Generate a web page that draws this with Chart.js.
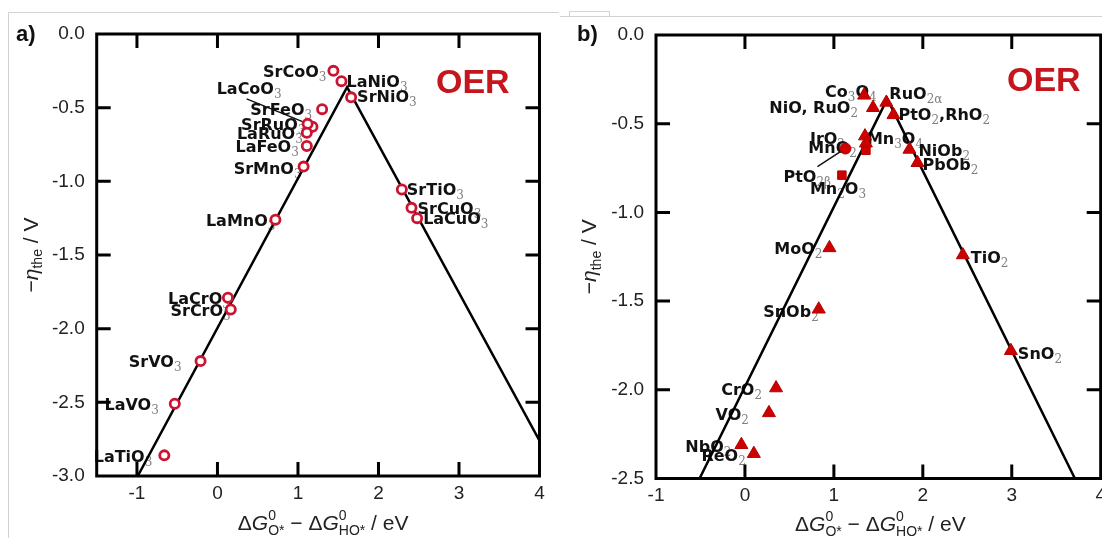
<!DOCTYPE html>
<html><head><meta charset="utf-8">
<script src="https://cdn.jsdelivr.net/npm/chart.js@4.4.0/dist/chart.umd.min.js"></script>
<style>
html,body{margin:0;padding:0;background:#fff;overflow:hidden;width:1102px;height:538px;}
#wrap{position:relative;width:1102px;height:538px;overflow:hidden;}
canvas{position:absolute;top:0;}
.fr{position:absolute;background:#d2d2d2;}
</style></head><body>
<div id="wrap">
<div class="fr" style="left:8px;top:12px;width:551px;height:1px"></div>
<div class="fr" style="left:8px;top:12px;width:1px;height:526px"></div>
<div class="fr" style="left:569px;top:11px;width:40px;height:1px"></div>
<div class="fr" style="left:569px;top:11px;width:1px;height:5px"></div>
<div class="fr" style="left:609px;top:11px;width:1px;height:5px"></div>
<div class="fr" style="left:560px;top:16px;width:542px;height:1px"></div>
<canvas id="ca" width="560" height="538" style="left:0"></canvas>
<canvas id="cb" width="560" height="538" style="left:560px"></canvas>
</div>
<script>
// ---------------- Panel a data (perovskites) ----------------
const aNames = ['SrCoO_3','LaNiO_3','SrNiO_3','SrFeO_3','SrRuO_3','LaCoO_3','LaRuO_3','LaFeO_3','SrMnO_3','LaMnO_3','SrTiO_3','SrCuO_3','LaCuO_3','LaCrO_3','SrCrO_3','SrVO_3','LaVO_3','LaTiO_3'];
const aX = [1.44, 1.54, 1.66, 1.30, 1.18, 1.12, 1.11, 1.11, 1.07, 0.72, 2.29, 2.41, 2.48, 0.13, 0.165, -0.21, -0.53, -0.66];
const aY = [-0.25, -0.32, -0.43, -0.51, -0.63, -0.61, -0.67, -0.76, -0.90, -1.26, -1.055, -1.18, -1.25, -1.79, -1.87, -2.22, -2.51, -2.86];
const aLineX = [-0.99, 1.61, 4.0];
const aLineY = [-3.0, -0.36, -2.76];
const aXTicks = [-1, 0, 1, 2, 3, 4];
const aYTicks = [0, -0.5, -1.0, -1.5, -2.0, -2.5, -3.0];

// ---------------- Panel b data (rutile/oxides) ----------------
const bTriNames = ['Co_3O_4','NiO, RuO_2','RuO_{2α}','PtO_2,RhO_2','IrO_2','Mn_3O_4','NiOb_2','PbOb_2','MoO_2','TiO_2','SnOb_2','SnO_2','CrO_2','VO_2','NbO_2','ReO_2'];
const bTriX = [1.34, 1.44, 1.59, 1.67, 1.35, 1.36, 1.85, 1.94, 0.95, 2.45, 0.83, 2.99, 0.35, 0.27, -0.04, 0.10];
const bTriY = [-0.34, -0.41, -0.38, -0.45, -0.57, -0.61, -0.645, -0.72, -1.20, -1.24, -1.546, -1.78, -1.99, -2.13, -2.31, -2.36];
const bCircNames = ['PtO_{2β}'];
const bCircX = [1.13];
const bCircY = [-0.64];
const bSqNames = ['MnO_2','Mn_2O_3'];
const bSqX = [1.36, 1.09];
const bSqY = [-0.65, -0.79];
const bLineX = [-0.51, 1.60, 3.71];
const bLineY = [-2.5, -0.36, -2.5];
const bXTicks = [-1, 0, 1, 2, 3, 4];
const bYTicks = [0, -0.5, -1.0, -1.5, -2.0, -2.5];

// ---------------- label placement (style only) ----------------
const placeA = {
 'SrCoO_3':[-7,0,'r'],'LaNiO_3':[5,0,'l'],'SrNiO_3':[6,-1,'l'],'SrFeO_3':[-10,0,'r'],
 'SrRuO_3':[-7,-3,'r'],'LaCoO_3':[-91,-36,'l'],'LaRuO_3':[-4,0,'r'],'LaFeO_3':[-8,0,'r'],
 'SrMnO_3':[-2,1,'r'],'LaMnO_3':[0,0,'r'],'SrTiO_3':[5,0,'l'],'SrCuO_3':[6,0,'l'],'LaCuO_3':[6,0,'l'],
 'LaCrO_3':[2,0,'r'],'SrCrO_3':[0,0,'r'],'SrVO_3':[-19,0,'r'],'LaVO_3':[-16,0,'r'],'LaTiO_3':[-12,1,'r']
};
const leadA = {'LaCoO_3':[-61,-25,-2,-1]};
const placeB = {
 'Co_3O_4':[-39,-4,'l'],'NiO, RuO_2':[-15,-1,'r'],'RuO_{2α}':[3,-9,'l'],'PtO_2,RhO_2':[5,-1,'l'],
 'IrO_2':[-20,2,'r'],'Mn_3O_4':[1,-5,'l'],'NiOb_2':[9,1,'l'],'PbOb_2':[5,1,'l'],'MoO_2':[-7,0,'r'],
 'TiO_2':[8,2,'l'],'SnOb_2':[0,2,'r'],'SnO_2':[7,2,'l'],'CrO_2':[-14,1,'r'],'VO_2':[-20,1,'r'],
 'NbO_2':[-10,1,'r'],'ReO_2':[-8,1,'r'],'PtO_{2β}':[-62,27,'l'],'MnO_2':[-9,-3,'r'],'Mn_2O_3':[-32,13,'l']
};
const leadB = {'PtO_{2β}':[-28,18,-5,3]};

const MAIN_FONT = 'bold 16px "DejaVu Sans"';
const SUB_FONT = '12px "DejaVu Serif"';
const AX_FONT = '"Liberation Sans", Arial, sans-serif';

function parseLabel(s){
  const segs=[]; let i=0, cur='';
  while(i<s.length){
    const c=s[i];
    if(c==='_'){
      if(cur){segs.push({t:cur,sub:false});cur='';}
      if(s[i+1]==='{'){const j=s.indexOf('}',i); segs.push({t:s.slice(i+2,j),sub:true}); i=j+1;}
      else {segs.push({t:s[i+1],sub:true}); i+=2;}
    } else {cur+=c;i++;}
  }
  if(cur) segs.push({t:cur,sub:false});
  return segs;
}
function drawRich(ctx, label, x, yMid, align){
  const segs=parseLabel(label);
  let w=0;
  segs.forEach(s=>{ctx.font=s.sub?SUB_FONT:MAIN_FONT; s.w=ctx.measureText(s.t).width; w+=s.w;});
  let cx = align==='r' ? x-w : x;
  const base = yMid+6;
  ctx.textBaseline='alphabetic'; ctx.textAlign='left';
  segs.forEach(s=>{
    ctx.font=s.sub?SUB_FONT:MAIN_FONT;
    ctx.fillStyle=s.sub?'#808080':'#111';
    ctx.fillText(s.t, cx, s.sub?base+4:base);
    cx+=s.w;
  });
}

function measureTitle(ctx, segs, size){
  let w=0;
  segs.forEach(s=>{
    if(s.t!==undefined){ctx.font=(s.it?'italic ':'')+size+'px '+AX_FONT; s.w=ctx.measureText(s.t).width;}
    else {ctx.font=Math.round(size*0.68)+'px '+AX_FONT; s.w=Math.max(ctx.measureText(s.sup||'').width, ctx.measureText(s.sub||'').width);}
    w+=s.w;
  });
  return w;
}
function drawTitle(ctx, segs, x, base, size){
  let cx=x;
  ctx.textAlign='left'; ctx.textBaseline='alphabetic'; ctx.fillStyle='#222';
  segs.forEach(s=>{
    if(s.t!==undefined){ctx.font=(s.it?'italic ':'')+size+'px '+AX_FONT; ctx.fillText(s.t,cx,base);}
    else {
      ctx.font=Math.round(size*0.68)+'px '+AX_FONT;
      if(s.sup) ctx.fillText(s.sup,cx,base-size*0.5);
      if(s.sub) ctx.fillText(s.sub,cx,base+size*0.22);
    }
    cx+=s.w;
  });
}
const xTitleSegs = ()=>[{t:'Δ'},{t:'G',it:true},{sup:'0',sub:'O*'},{t:' − Δ'},{t:'G',it:true},{sup:'0',sub:'HO*'},{t:' / eV'}];
const yTitleSegs = ()=>[{t:'−'},{t:'η',it:true},{sub:'the'},{t:' / V'}];

const decorPlugin = {
  id:'decor',
  beforeDatasetsDraw(chart){
    const o=chart.options.plugins.decor; const ctx=chart.ctx;
    const {x,y}=chart.scales;
    ctx.save();
    o.groups.forEach(g=>{
      g.names.forEach((n,i)=>{
        const px=x.getPixelForValue(g.xs[i]), py=y.getPixelForValue(g.ys[i]);
        const p=o.place[n]||[6,0,'l'];
        drawRich(ctx,n,px+p[0],py+p[1],p[2]);
        const ld=o.lead[n];
        if(ld){ctx.strokeStyle='#111';ctx.lineWidth=1.5;ctx.beginPath();ctx.moveTo(px+ld[0],py+ld[1]);ctx.lineTo(px+ld[2],py+ld[3]);ctx.stroke();}
      });
    });
    ctx.restore();
  },
  afterDraw(chart){
    const o=chart.options.plugins.decor; const ctx=chart.ctx; const ca=chart.chartArea;
    const {x,y}=chart.scales;
    ctx.save();
    ctx.strokeStyle='#000'; ctx.lineWidth=3; ctx.lineCap='butt';
    ctx.strokeRect(ca.left,ca.top,ca.right-ca.left,ca.bottom-ca.top);
    const TL=14;
    ctx.beginPath();
    x.ticks.forEach(t=>{const px=x.getPixelForValue(t.value); if(px<=ca.left+2||px>=ca.right-2)return;
      ctx.moveTo(px,ca.bottom);ctx.lineTo(px,ca.bottom-TL);ctx.moveTo(px,ca.top);ctx.lineTo(px,ca.top+TL);});
    y.ticks.forEach(t=>{const py=y.getPixelForValue(t.value); if(py<=ca.top+2||py>=ca.bottom-2)return;
      ctx.moveTo(ca.left,py);ctx.lineTo(ca.left+TL,py);ctx.moveTo(ca.right,py);ctx.lineTo(ca.right-TL,py);});
    ctx.stroke();
    ctx.fillStyle='#c4161c'; ctx.font='bold 34px '+AX_FONT; ctx.textAlign='left'; ctx.textBaseline='alphabetic';
    ctx.fillText('OER',o.oer[0],o.oer[1]);
    ctx.fillStyle='#111'; ctx.font='bold 22px '+AX_FONT;
    ctx.fillText(o.letter,o.letterPos[0],o.letterPos[1]);
    const xs=xTitleSegs(); const w=measureTitle(ctx,xs,21);
    drawTitle(ctx,xs,(ca.left+ca.right)/2-w/2+o.xTitleShift,o.xTitleBase,21);
    const ys=yTitleSegs(); const wy=measureTitle(ctx,ys,21);
    ctx.translate(o.yTitleX,(ca.top+ca.bottom)/2); ctx.rotate(-Math.PI/2);
    drawTitle(ctx,ys,-wy/2,0,21);
    ctx.restore();
  }
};

function pts(xs,ys){return xs.map((v,i)=>({x:v,y:ys[i]}));}

function makeChart(id, cfg){
  return new Chart(document.getElementById(id),{
    type:'scatter',
    data:{datasets:cfg.datasets},
    options:{
      responsive:false, animation:false, devicePixelRatio:1, events:[],
      layout:{padding:{left:0,top:cfg.top,right:cfg.right,bottom:0}},
      plugins:{legend:{display:false},tooltip:{enabled:false},decor:cfg.decor},
      scales:{
        x:{type:'linear',min:cfg.xmin,max:cfg.xmax,
          afterBuildTicks:s=>{s.ticks=cfg.xTicks.map(v=>({value:v}));},
          afterFit:s=>{s.height=cfg.xH;},
          grid:{display:false,drawTicks:false},border:{display:false},
          ticks:{padding:6,color:'#222',font:{family:AX_FONT,size:19},callback:v=>String(v)}},
        y:{type:'linear',min:cfg.ymin,max:0,
          afterBuildTicks:s=>{s.ticks=cfg.yTicks.map(v=>({value:v}));},
          afterFit:s=>{s.width=cfg.yW;},
          grid:{display:false,drawTicks:false},border:{display:false},
          ticks:{padding:12,color:'#222',font:{family:AX_FONT,size:19},callback:v=>Number(v).toFixed(1)}}
      }
    },
    plugins:[decorPlugin]
  });
}

const RED='#cc1430';
makeChart('ca',{
  top:34, right:20.5, xH:62, yW:96.7, xmin:-1.5, xmax:4, ymin:-3, xTicks:aXTicks, yTicks:aYTicks,
  datasets:[
    {data:pts(aX,aY),pointStyle:'circle',pointRadius:4.6,borderWidth:2.8,borderColor:RED,backgroundColor:'#fff',order:0},
    {data:pts(aLineX,aLineY),showLine:true,pointRadius:0,borderColor:'#000',borderWidth:2.5,order:1}
  ],
  decor:{groups:[{names:aNames,xs:aX,ys:aY}],place:placeA,lead:leadA,oer:[436,93],letter:'a)',letterPos:[16,41],xTitleShift:5,xTitleBase:530,yTitleX:37.5}
});
makeChart('cb',{
  top:35, right:19.3, xH:59.5, yW:96, xmin:-1, xmax:4, ymin:-2.5, xTicks:bXTicks, yTicks:bYTicks,
  datasets:[
    {data:pts(bTriX,bTriY),pointStyle:'triangle',pointRadius:7.5,borderWidth:1,borderColor:'#b80000',backgroundColor:'#cc0000',order:0},
    {data:pts(bCircX,bCircY),pointStyle:'circle',pointRadius:5.5,borderWidth:1,borderColor:'#b80000',backgroundColor:'#cc0000',order:0},
    {data:pts(bSqX,bSqY),pointStyle:'rect',pointRadius:6,borderWidth:1,borderColor:'#b80000',backgroundColor:'#cc0000',order:0},
    {data:pts(bLineX,bLineY),showLine:true,pointRadius:0,borderColor:'#000',borderWidth:2.5,order:1}
  ],
  decor:{groups:[{names:bTriNames,xs:bTriX,ys:bTriY},{names:bCircNames,xs:bCircX,ys:bCircY},{names:bSqNames,xs:bSqX,ys:bSqY}],
    place:placeB,lead:leadB,oer:[447,91],letter:'b)',letterPos:[17,41],xTitleShift:2,xTitleBase:531,yTitleX:36}
});
</script>
</body></html>
